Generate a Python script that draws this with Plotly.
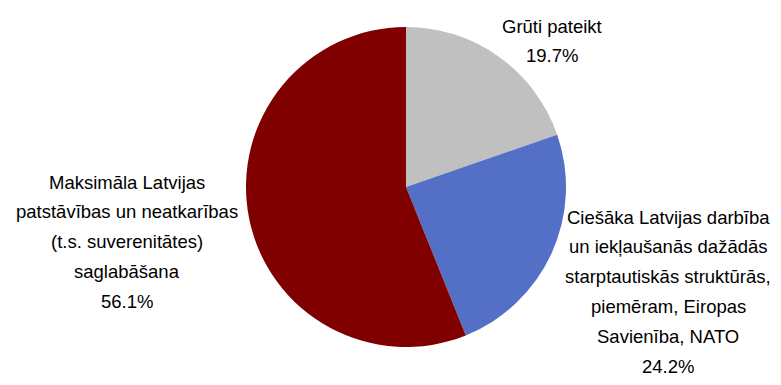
import plotly.graph_objects as go

labels = ["Grūti pateikt",
          "Ciešāka Latvijas darbība un iekļaušanās dažādās starptautiskās struktūrās, piemēram, Eiropas Savienība, NATO",
          "Maksimāla Latvijas patstāvības un neatkarības (t.s. suverenitātes) saglabāšana"]
values = [19.7, 24.2, 56.1]
colors = ["#C0C0C0", "#5470C6", "#800000"]

label_lines = [
    ["Grūti pateikt", "19.7%"],
    ["Ciešāka Latvijas darbība", "un iekļaušanās dažādās", "starptautiskās struktūrās,",
     "piemēram, Eiropas", "Savienība, NATO", "24.2%"],
    ["Maksimāla Latvijas", "patstāvības un neatkarības", "(t.s. suverenitātes)",
     "saglabāšana", "56.1%"],
]

OFF = 8  # page body margin compensation
W, H = 781 - 2 * OFF, 385 - 2 * OFF
# label anchor (center x, first line y) in page pixels, line spacing
label_pos = [(552, 26), (668, 217), (127, 182)]
line_step = 29.8
cx, cy, r = 406 - OFF, 187 - OFF, 160

fig = go.Figure(go.Pie(
    labels=labels, values=values, sort=False, direction="clockwise", rotation=0,
    marker=dict(colors=colors, line=dict(width=0)),
    textinfo="none", hoverinfo="none",
    domain=dict(x=[(cx - r) / W, (cx + r) / W], y=[(H - cy - r) / H, (H - cy + r) / H]),
    showlegend=False,
))

anns = []
for lines, (x, y0) in zip(label_lines, label_pos):
    for i, t in enumerate(lines):
        y = y0 + i * line_step - OFF
        anns.append(dict(x=(x - OFF) / W, y=1 - y / H, xref="paper", yref="paper",
                         text=t, showarrow=False, xanchor="center", yanchor="middle",
                         font=dict(family="Liberation Sans, Arial", size=18.5, color="#000000")))

fig.update_layout(width=W, height=H, margin=dict(l=0, r=0, t=0, b=0),
                  paper_bgcolor="white", plot_bgcolor="white", annotations=anns)
fig.write_html("out.html")
